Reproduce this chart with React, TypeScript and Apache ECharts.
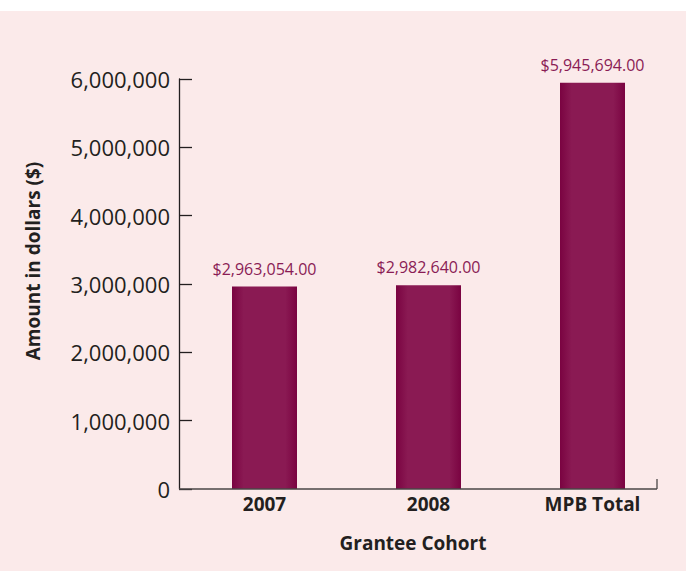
import React, { useEffect, useRef } from "react";
import * as echarts from "echarts";

const categories = ["2007", "2008", "MPB Total"];
const amounts = [2963054, 2982640, 5945694];
const yMin = 0;
const yMax = 6000000;
const yStep = 1000000;
const xAxisTitle = "Grantee Cohort";
const yAxisTitle = "Amount in dollars ($)";

const FONT = "'Open Sans', 'Noto Sans', sans-serif";
const DARK = "#231f20";
const BAR_LABEL = "#8a1c55";

const fmtInt = (v: number) => v.toLocaleString("en-US");
const fmtMoney = (v: number) =>
  "$" + v.toLocaleString("en-US", { minimumFractionDigits: 2, maximumFractionDigits: 2 });

export default function App() {
  const ref = useRef<HTMLDivElement>(null);
  useEffect(() => {
    if (!ref.current) return;
    const chart = echarts.init(ref.current, undefined, { renderer: "svg" });
    const gridLeft = 182.5;
    const gridTop = 68;
    const gridHeight = 410;
    const gridWidth = 492;
    const axisY = gridTop + gridHeight;
    chart.setOption({
      animation: false,
      backgroundColor: "#fbeaea",
      grid: { left: gridLeft, top: gridTop, width: gridWidth, height: gridHeight },
      xAxis: {
        type: "category",
        data: categories,
        axisLine: { show: false },
        axisTick: { show: false },
        axisLabel: {
          color: DARK,
          fontFamily: FONT,
          fontWeight: "bold",
          fontSize: 19,
          margin: 5,
        },
      },
      yAxis: {
        type: "value",
        min: yMin,
        max: yMax,
        interval: yStep,
        offset: 3.5,
        axisLine: { show: true, lineStyle: { color: DARK, width: 1.3 } },
        axisTick: { show: true, inside: true, length: 13, lineStyle: { color: DARK, width: 1.3 } },
        splitLine: { show: false },
        axisLabel: {
          color: DARK,
          fontFamily: FONT,
          fontSize: 22,
          margin: 9,
          formatter: (v: number) => fmtInt(v),
        },
      },
      series: [
        {
          type: "bar",
          data: amounts,
          barWidth: 65,
          itemStyle: {
            color: new echarts.graphic.LinearGradient(0, 0, 1, 0, [
              { offset: 0, color: "#7a0341" },
              { offset: 0.18, color: "#8a1a53" },
              { offset: 0.82, color: "#8a1a53" },
              { offset: 1, color: "#7a0341" },
            ]),
          },
          label: {
            show: true,
            position: "top",
            distance: 10,
            color: BAR_LABEL,
            fontFamily: FONT,
            fontSize: 16,
            formatter: (p: any) => fmtMoney(p.value),
          },
        },
      ],
      graphic: [
        {
          type: "line",
          shape: { x1: 179, y1: axisY, x2: 657, y2: axisY },
          style: { stroke: "#4a4646", lineWidth: 1.3 },
          z: 10,
        },
        {
          type: "line",
          shape: { x1: 657, y1: axisY - 10, x2: 657, y2: axisY },
          style: { stroke: "#4a4646", lineWidth: 1.3 },
          z: 10,
        },
        {
          type: "text",
          x: 413,
          y: 532,
          style: {
            text: xAxisTitle,
            fill: DARK,
            font: `bold 19px ${FONT}`,
            textAlign: "center",
            textVerticalAlign: "middle",
          },
        },
        {
          type: "text",
          x: 33,
          y: 250,
          rotation: Math.PI / 2,
          style: {
            text: yAxisTitle,
            fill: DARK,
            font: `bold 19px ${FONT}`,
            textAlign: "center",
            textVerticalAlign: "middle",
          },
        },
      ],
    });
    return () => chart.dispose();
  }, []);
  return (
    <div style={{ position: "fixed", left: 0, top: 0, width: 686, height: 571, background: "#ffffff" }}>
      <div ref={ref} style={{ position: "absolute", left: 0, top: 11, width: 686, height: 560 }} />
    </div>
  );
}
